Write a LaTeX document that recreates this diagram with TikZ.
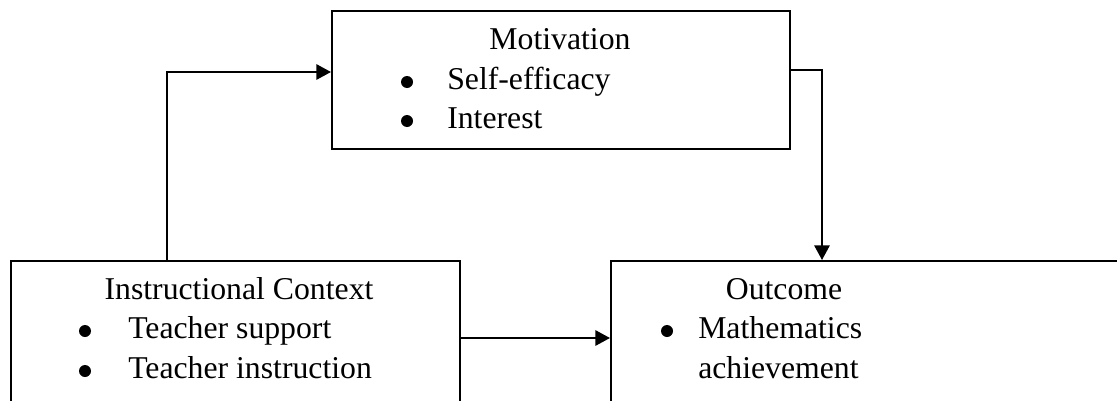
\documentclass[tikz,border=0pt]{standalone}
\usepackage{fontspec}
\setmainfont{Liberation Serif}
\usetikzlibrary{arrows.meta}
\begin{document}
\begin{tikzpicture}[x=0.75pt,y=-0.75pt,
  box/.style={draw,line width=1.5pt,rectangle,inner sep=0pt,anchor=north west},
  lbl/.style={font=\fontsize{23.8}{29}\selectfont,inner sep=0pt,anchor=base west},
  ttl/.style={font=\fontsize{23.8}{29}\selectfont,inner sep=0pt,anchor=base},
  dot/.style={circle,fill,inner sep=0pt,minimum size=9pt},
  arr/.style={line width=1.5pt,-{Triangle[length=11pt,width=11.5pt]}}]
\useasboundingbox (0,0) rectangle (1117,400);
\clip (0,0) rectangle (1117,400);

% boxes
\node[box,minimum width=343.5pt,minimum height=103.5pt] (motiv) at (331,10) {};
\node[box,minimum width=336.75pt,minimum height=120pt] (instr) at (10,260) {};
\node[box,minimum width=397.5pt,minimum height=120pt] (outc) at (610,260) {};

% connectors
\draw[arr] ([xshift=117.75pt]instr.north west) |- ([yshift=6pt]motiv.west);
\draw[arr] ([yshift=7.5pt]motiv.east) -| ([xshift=159pt]outc.north west);
\draw[arr] ([yshift=2.25pt]instr.east) -- ([yshift=2.25pt]outc.west);

% Motivation
\node[ttl] (mt) at (560,49) {Motivation};
\node[dot] (md1) at (407,82) {};
\node[lbl] (ml1) at (447,89) {Self-efficacy};
\node[dot] (md2) at (407,121) {};
\node[lbl] (ml2) at (447,128) {Interest};

% Instructional Context
\node[ttl] (it) at (239,299) {Instructional Context};
\node[dot] (id1) at (85,331) {};
\node[lbl] (il1) at (128,338) {Teacher support};
\node[dot] (id2) at (85,371) {};
\node[lbl] (il2) at (128,378) {Teacher instruction};

% Outcome
\node[ttl] (ot) at (784,299) {Outcome};
\node[dot] (od1) at (667,331) {};
\node[lbl] (ol1) at (698,338) {Mathematics};
\node[lbl] (ol2) at (698,378) {achievement};
\end{tikzpicture}
\end{document}
